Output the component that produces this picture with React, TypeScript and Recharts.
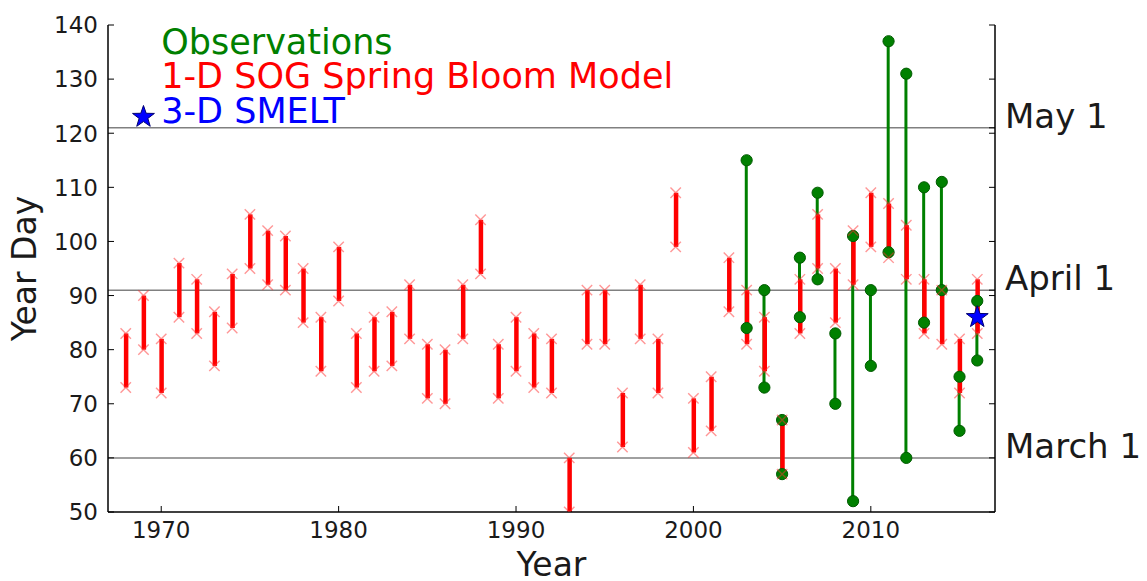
import React from 'react';
import {
  ComposedChart, Bar, Scatter, XAxis, YAxis, CartesianGrid, ReferenceDot,
} from 'recharts';

// ---- data ----
const years = [
  1968, 1969, 1970, 1971, 1972, 1973, 1974, 1975, 1976, 1977,
  1978, 1979, 1980, 1981, 1982, 1983, 1984, 1985, 1986, 1987,
  1988, 1989, 1990, 1991, 1992, 1993, 1994, 1995, 1996, 1997,
  1998, 1999, 2000, 2001, 2002, 2003, 2004, 2005, 2006, 2007,
  2008, 2009, 2010, 2011, 2012, 2013, 2014, 2015, 2016,
];
const modelLow = [
  73, 80, 72, 86, 83, 77, 84, 95, 92, 91,
  85, 76, 89, 73, 76, 77, 82, 71, 70, 82,
  94, 71, 76, 73, 72, 50, 81, 81, 62, 82,
  72, 99, 61, 65, 87, 81, 76, 57, 83, 95,
  85, 92, 99, 97, 93, 83, 81, 72, 83,
];
const modelHigh = [
  83, 90, 82, 96, 93, 87, 94, 105, 102, 101,
  95, 86, 99, 83, 86, 87, 92, 81, 80, 92,
  104, 81, 86, 83, 82, 60, 91, 91, 72, 92,
  82, 109, 71, 75, 97, 91, 86, 67, 93, 105,
  95, 102, 109, 107, 103, 93, 91, 82, 93,
];
const obsYears = [2003, 2004, 2005, 2006, 2007, 2008, 2009, 2010, 2011, 2012, 2013, 2014, 2015, 2016];
const obsLow = [84, 73, 57, 86, 93, 70, 52, 77, 98, 60, 85, 91, 65, 78];
const obsHigh = [115, 91, 67, 97, 109, 83, 101, 91, 137, 131, 110, 111, 75, 89];
const smeltYears = [2016];
const smeltDays = [86];

const xTicks = [1970, 1980, 1990, 2000, 2010];
const yTicks = [50, 60, 70, 80, 90, 100, 110, 120, 130, 140];
const dateDays = [60, 91, 121];
const dateLabels = ['March 1', 'April 1', 'May 1'];
const rightTicks = [50, 60, 70, 80, 90, 91, 100, 110, 120, 121, 130, 140];
const legendYears = [1970, 1970, 1970];
const legendDays = [137.0, 130.6, 124.2];
const legendTexts = ['Observations', '1-D SOG Spring Bloom Model', '3-D SMELT'];
const legendColors = ['#008000', '#ff0000', '#0000ff'];
const legendStarYear = 1969;
const legendStarDay = 123;

// ---- derived tables ----
const rows = years.map((y, i) => {
  const j = obsYears.indexOf(y);
  return {
    year: y,
    red: [modelLow[i], modelHigh[i]],
    green: j >= 0 ? [obsLow[j], obsHigh[j]] : null,
  };
});
const redPts = years.flatMap((y, i) => [
  { year: y, day: modelLow[i] },
  { year: y, day: modelHigh[i] },
]);
const greenPts = obsYears.flatMap((y, i) => [
  { year: y, day: obsLow[i] },
  { year: y, day: obsHigh[i] },
]);
const starPts = smeltYears.map((y, i) => ({ year: y, day: smeltDays[i] }));

const FONT = 'DejaVu Sans, Verdana, sans-serif';
const TICK_FS = 23;
const LABEL_FS = 33;
const DATE_FS = 34;
const LEGEND_FS = 35;

const XMark = (p: any) => {
  const { cx, cy } = p;
  const s = 5.2;
  return (
    <path
      d={`M${cx - s},${cy - s}L${cx + s},${cy + s}M${cx - s},${cy + s}L${cx + s},${cy - s}`}
      stroke="#ff3030"
      strokeOpacity={0.5}
      strokeWidth={1.4}
      fill="none"
    />
  );
};

const Dot = (p: any) => (
  <circle cx={p.cx} cy={p.cy} r={5.6} fill="#008000" stroke="#005a00" strokeWidth={1} />
);

const Star = (p: any) => {
  const { cx, cy } = p;
  const R = 11.5;
  const r = 4.6;
  let d = '';
  for (let k = 0; k < 10; k++) {
    const rad = k % 2 === 0 ? R : r;
    const a = -Math.PI / 2 + (k * Math.PI) / 5;
    d += `${k === 0 ? 'M' : 'L'}${cx + rad * Math.cos(a)},${cy + rad * Math.sin(a)}`;
  }
  d += 'Z';
  return <path d={d} fill="#0000ff" stroke="#000070" strokeWidth={1} />;
};

const LeftTick = (p: any) => {
  const { x, y, payload } = p;
  return (
    <g>
      <line x1={x} x2={x + 6} y1={y} y2={y} stroke="#000" strokeWidth={1} />
      <text x={x - 10} y={y} dy="0.36em" textAnchor="end" fontSize={TICK_FS} fill="#1a1a1a" fontFamily={FONT}>
        {payload.value}
      </text>
    </g>
  );
};

const BottomTick = (p: any) => {
  const { x, y, payload } = p;
  return (
    <g>
      <line x1={x} x2={x} y1={y} y2={y - 6} stroke="#000" strokeWidth={1} />
      <text x={x} y={y + 26} textAnchor="middle" fontSize={TICK_FS} fill="#1a1a1a" fontFamily={FONT}>
        {payload.value}
      </text>
    </g>
  );
};

const TopTick = (p: any) => {
  const { x, y } = p;
  return <line x1={x} x2={x} y1={y} y2={y + 6} stroke="#000" strokeWidth={1} />;
};

const RightTick = (p: any) => {
  const { x, y, payload } = p;
  const idx = dateDays.indexOf(payload.value);
  return (
    <g>
      <line x1={x - 6} x2={x} y1={y} y2={y} stroke="#000" strokeWidth={1} />
      {idx >= 0 && (
        <text x={x + 10} y={y} textAnchor="start" fontSize={DATE_FS} fill="#1a1a1a" fontFamily={FONT}>
          {dateLabels[idx]}
        </text>
      )}
    </g>
  );
};

const LegendText = (i: number) => (p: any) => (
  <text
    x={p.cx}
    y={p.cy}
    dy="0.36em"
    textAnchor="start"
    fontSize={LEGEND_FS}
    fill={legendColors[i]}
    fontFamily={FONT}
  >
    {legendTexts[i]}
  </text>
);

const YLabel = (p: any) => {
  const vb = p.viewBox || { x: 0, y: 17, width: 100, height: 487 };
  const cx = vb.x + 28;
  const cy = vb.y + vb.height / 2;
  return (
    <text
      x={cx}
      y={cy}
      transform={`rotate(-90, ${cx}, ${cy})`}
      textAnchor="middle"
      fontSize={LABEL_FS}
      fill="#1a1a1a"
      fontFamily={FONT}
    >
      Year Day
    </text>
  );
};

const XLabel = (p: any) => {
  const vb = p.viewBox || { x: 100, y: 504, width: 887, height: 69 };
  return (
    <text
      x={vb.x + vb.width / 2}
      y={vb.y + 64}
      textAnchor="middle"
      fontSize={LABEL_FS}
      fill="#1a1a1a"
      fontFamily={FONT}
    >
      Year
    </text>
  );
};

export default function App() {
  return (
    <div style={{ width: 1139, height: 573, fontFamily: FONT }}>
      <ComposedChart
        width={1139}
        height={573}
        data={rows}
        margin={{ top: 17, right: 0, bottom: 0, left: 0 }}
      >
        <CartesianGrid
          xAxisId="x"
          yAxisId="l"
          vertical={false}
          horizontalValues={dateDays}
          stroke="#808080"
          strokeWidth={1.5}
        />
        <XAxis
          xAxisId="x"
          dataKey="year"
          type="number"
          domain={[1967, 2017]}
          allowDataOverflow
          ticks={xTicks}
          interval={0}
          height={69}
          tickSize={0}
          tickMargin={0}
          tickLine={false}
          tick={<BottomTick />}
          axisLine={{ stroke: '#000', strokeWidth: 1.5 }}
          label={XLabel}
        />
        <XAxis
          xAxisId="x2"
          dataKey="year"
          type="number"
          domain={[1967, 2017]}
          allowDataOverflow
          hide
        />
        <XAxis
          xAxisId="top"
          orientation="top"
          dataKey="year"
          type="number"
          domain={[1967, 2017]}
          allowDataOverflow
          ticks={xTicks}
          interval={0}
          height={0}
          tickSize={0}
          tickMargin={0}
          tickLine={false}
          tick={<TopTick />}
          axisLine={{ stroke: '#000', strokeWidth: 1.5 }}
        />
        <YAxis
          yAxisId="l"
          type="number"
          domain={[50, 140]}
          allowDataOverflow
          ticks={yTicks}
          interval={0}
          width={100}
          tickSize={0}
          tickMargin={0}
          tickLine={false}
          tick={<LeftTick />}
          axisLine={{ stroke: '#000', strokeWidth: 1.5 }}
          label={YLabel}
        />
        <YAxis
          yAxisId="r"
          orientation="right"
          type="number"
          domain={[50, 140]}
          allowDataOverflow
          ticks={rightTicks}
          interval={0}
          width={152}
          tickSize={0}
          tickMargin={0}
          tickLine={false}
          tick={<RightTick />}
          axisLine={{ stroke: '#000', strokeWidth: 1.5 }}
        />
        <Bar
          xAxisId="x2"
          yAxisId="l"
          dataKey="green"
          fill="#008000"
          barSize={3}
          isAnimationActive={false}
        />
        <Bar
          xAxisId="x"
          yAxisId="l"
          dataKey="red"
          fill="#ff0000"
          barSize={4.5}
          isAnimationActive={false}
        />
        <Scatter
          xAxisId="x"
          yAxisId="l"
          data={greenPts}
          dataKey="day"
          shape={Dot}
          isAnimationActive={false}
        />
        <Scatter
          xAxisId="x"
          yAxisId="l"
          data={redPts}
          dataKey="day"
          shape={XMark}
          isAnimationActive={false}
        />
        <Scatter
          xAxisId="x"
          yAxisId="l"
          data={starPts}
          dataKey="day"
          shape={Star}
          isAnimationActive={false}
        />
        <ReferenceDot xAxisId="x" yAxisId="l" x={legendStarYear} y={legendStarDay} r={0} shape={Star} />
        {legendTexts.map((t, i) => (
          <ReferenceDot
            key={t}
            xAxisId="x"
            yAxisId="l"
            x={legendYears[i]}
            y={legendDays[i]}
            r={0}
            shape={LegendText(i)}
          />
        ))}
      </ComposedChart>
    </div>
  );
}
